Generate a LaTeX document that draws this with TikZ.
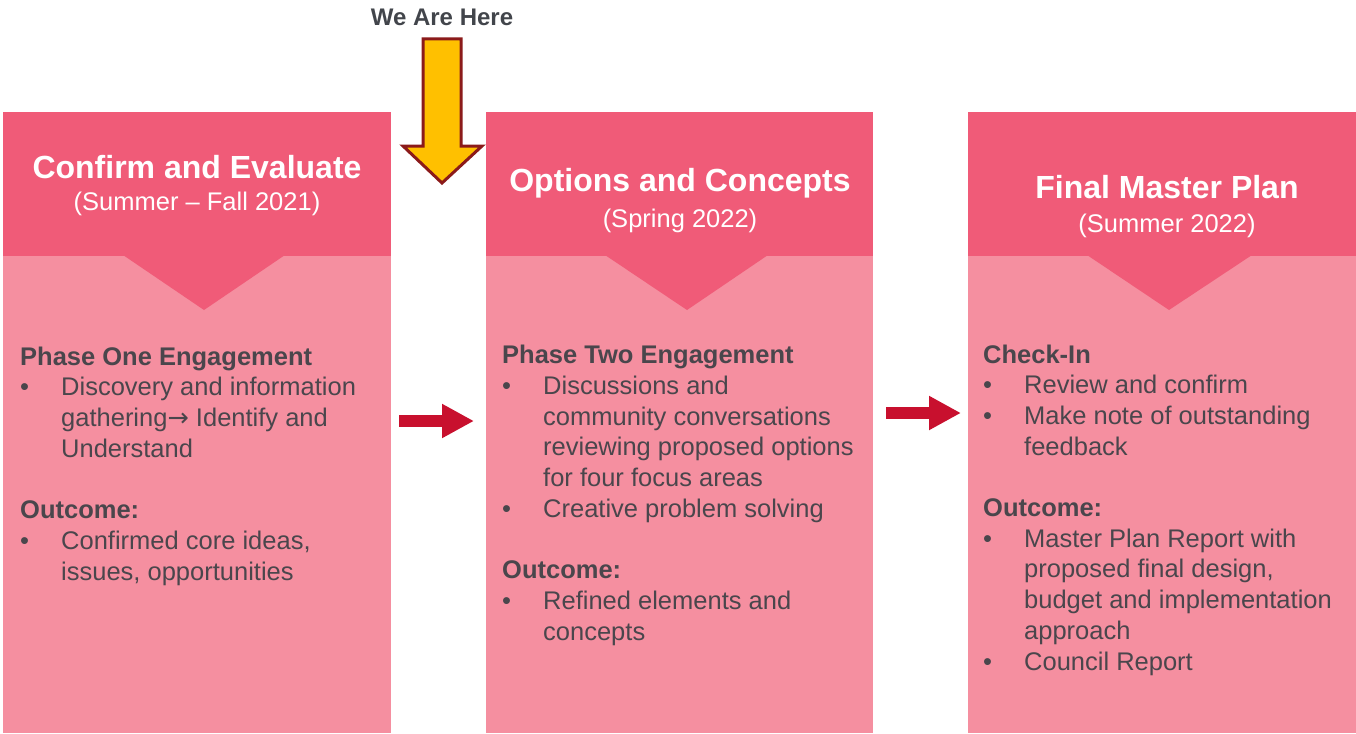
\documentclass[tikz,border=0pt]{standalone}
\usepackage{fontspec}
\setmainfont{Liberation Sans}
\newfontfamily\arrowfont{DejaVu Sans}
\usepackage{xcolor}
\usetikzlibrary{arrows.meta}

\definecolor{headpink}{HTML}{F05B78}
\definecolor{bodypink}{HTML}{F58FA0}
\definecolor{txtgray}{HTML}{4A464C}
\definecolor{heregray}{HTML}{42454B}
\definecolor{arrowred}{HTML}{C8102E}
\definecolor{hereyellow}{HTML}{FFC000}
\definecolor{heremaroon}{HTML}{8B1A1A}

\newcommand{\bul}{\makebox[41pt][l]{\textbullet}}
\newcommand{\ind}{\hspace*{41pt}}

\begin{document}
\begin{tikzpicture}[x=1pt, y=-1pt,
    phasetitle/.style={text=white, font=\fontsize{32}{36}\selectfont\bfseries, inner sep=0pt, anchor=base},
    phasedate/.style={text=white, font=\fontsize{25.5}{30}\selectfont, inner sep=0pt, anchor=base},
    phasetext/.style={text=txtgray, font=\fontsize{25.5}{30.7}\selectfont, align=left, inner sep=0pt, anchor=base west},
    nextarrow/.style={arrowred, line width=11.5pt, -{Triangle[length=32pt, width=32pt]}}
    ]
    \useasboundingbox (0,0) rectangle (1356,733);
    % the three phase boxes
    \foreach \l/\r/\cl/\tip/\cr in {3/391/123/204/285, 486/873/605/687/768, 968/1366/1087/1169/1252} {
      \fill[bodypink] (\l,112) rectangle (\r,733);
      \fill[headpink] (\l,112) rectangle (\r,256);
      \fill[headpink] (\cl,255) -- (\tip,310) -- (\cr,255) -- cycle;
    }

    \node[phasetitle] (title1) at (197,178) {Confirm and Evaluate};
    \node[phasedate] (date1) at (197,210) {(Summer -- Fall 2021)};
    \node[phasetitle] (title2) at (680,191) {Options and Concepts};
    \node[phasedate] (date2) at (680,227) {(Spring 2022)};
    \node[phasetitle] (title3) at (1167,198) {Final Master Plan};
    \node[phasedate] (date3) at (1167,232) {(Summer 2022)};

    % base of the last line
    \node[phasetext] (text1) at (20,580) {\textbf{Phase One Engagement}\\
      \bul Discovery and information\\
      \ind gathering{\arrowfont →} Identify and\\
      \ind Understand\\[30.7pt]
      \textbf{Outcome:}\\
      \bul Confirmed core ideas,\\
      \ind issues, opportunities};
    \node[phasetext] (text2) at (502,640) {\textbf{Phase Two Engagement}\\
      \bul Discussions and\\
      \ind community conversations\\
      \ind reviewing proposed options\\
      \ind for four focus areas\\
      \bul Creative problem solving\\[30.7pt]
      \textbf{Outcome:}\\
      \bul Refined elements and\\
      \ind concepts};
    \node[phasetext] (text3) at (983,670) {\textbf{Check-In}\\
      \bul Review and confirm\\
      \bul Make note of outstanding\\
      \ind feedback\\[30.7pt]
      \textbf{Outcome:}\\
      \bul Master Plan Report with\\
      \ind proposed final design,\\
      \ind budget and implementation\\
      \ind approach\\
      \bul Council Report};

    % arrows between the phases
    \coordinate (from1) at (399,421);
    \coordinate (to1) at (474,421);
    \coordinate (from2) at (886,413);
    \coordinate (to2) at (961,413);
    \draw[nextarrow] (from1) -- (to1);
    \draw[nextarrow] (from2) -- (to2);

    % we are here marker
    \node[text=heregray, font=\fontsize{24}{28}\selectfont\bfseries, inner sep=0pt, anchor=base] (here) at (442,26) {We Are Here};
    \filldraw[fill=hereyellow, draw=heremaroon, line width=3pt, line join=miter]
      (423,39) -- (461,39) -- (461,146) -- (482,146) -- (442,183) -- (403,146) -- (423,146) -- cycle;
  \end{tikzpicture}
\end{document}
